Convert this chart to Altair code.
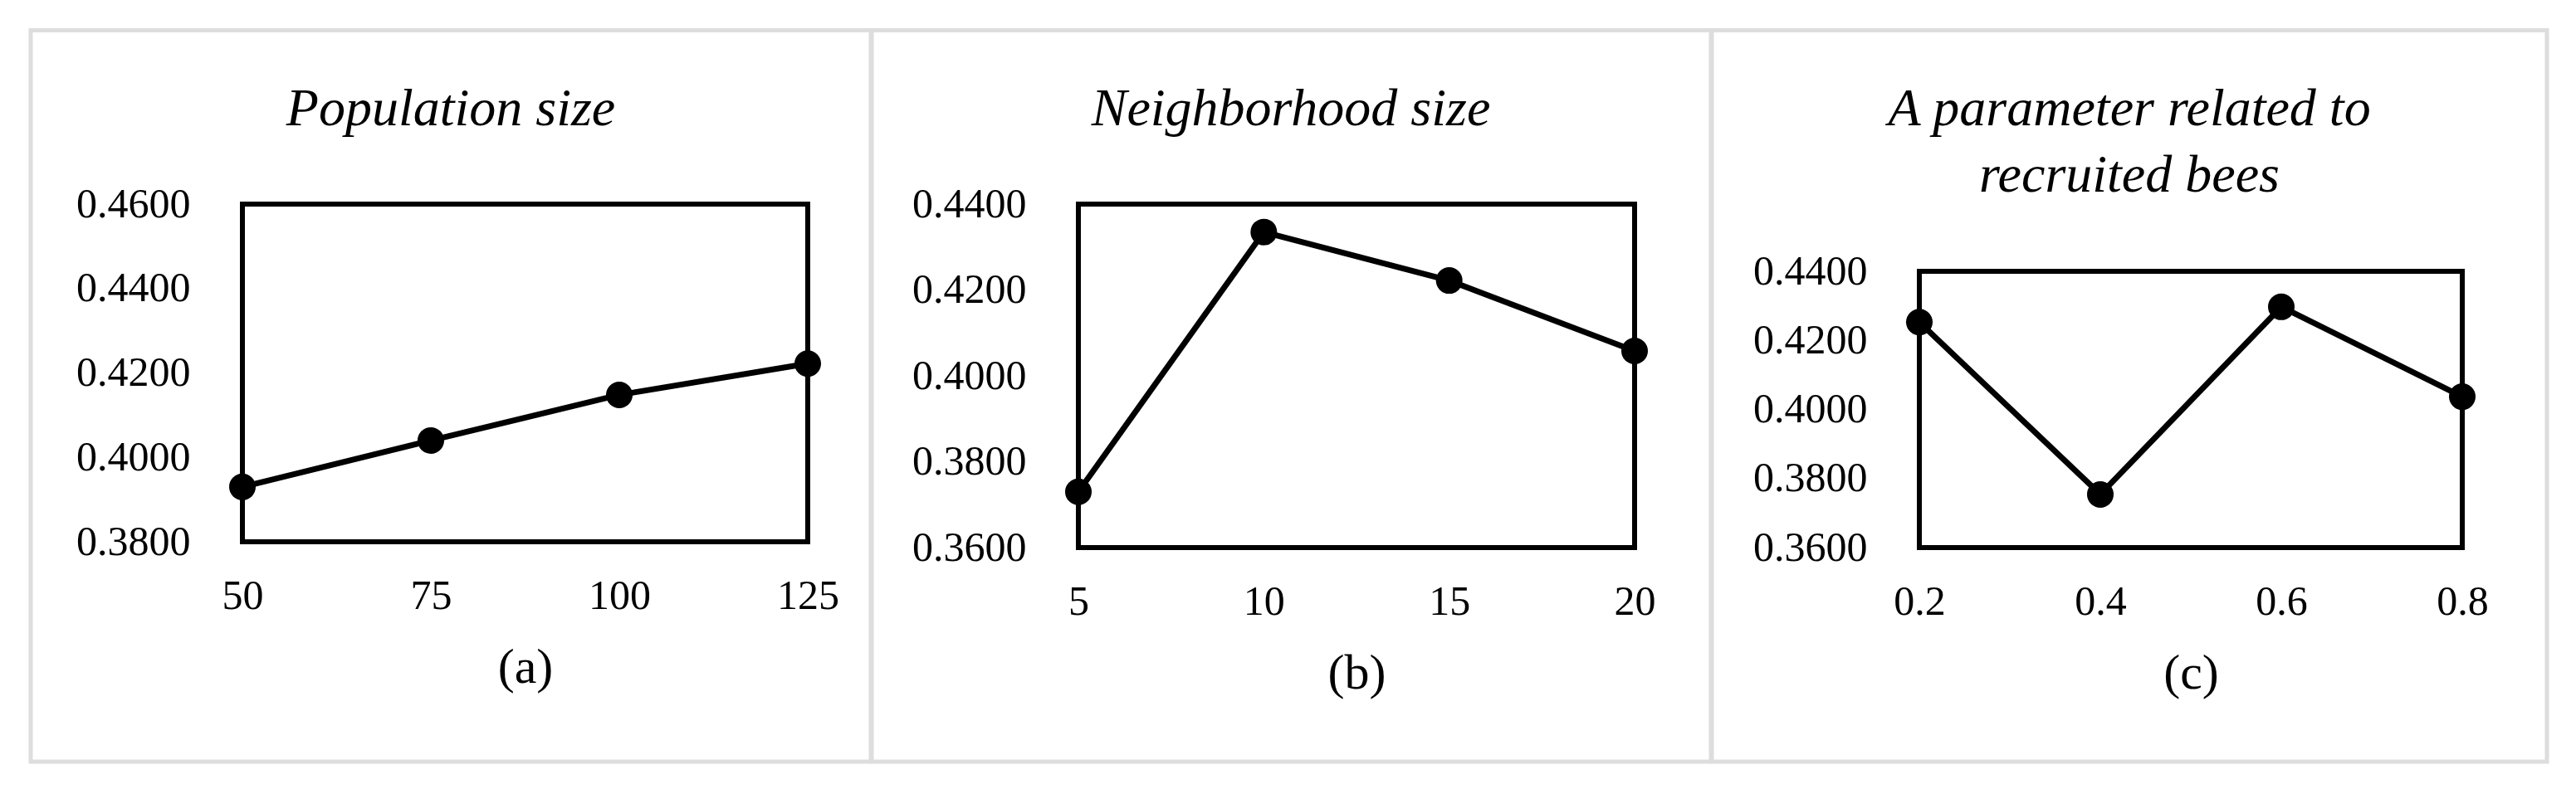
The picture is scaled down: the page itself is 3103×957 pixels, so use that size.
import altair as alt
import pandas as pd

# ---- data ----
pop_x = [50, 75, 100, 125]
pop_y = [0.3930, 0.4040, 0.4148, 0.4222]

nb_x = [5, 10, 15, 20]
nb_y = [0.3730, 0.4335, 0.4222, 0.4058]

rb_x = [0.2, 0.4, 0.6, 0.8]
rb_y = [0.4253, 0.3754, 0.4297, 0.4037]

pop_yticks = [0.38, 0.40, 0.42, 0.44, 0.46]
nb_yticks = [0.36, 0.38, 0.40, 0.42, 0.44]
rb_yticks = [0.36, 0.38, 0.40, 0.42, 0.44]

titles = [["Population size"], ["Neighborhood size"], ["A parameter related to", "recruited bees"]]
captions = ["(a)", "(b)", "(c)"]

FONT = "Liberation Serif"


def panel(xs, ys, x_dom, y_frame, y_top, x_fmt, y_ticks, title, caption,
          w, h, border, title_pos):
    df = pd.DataFrame({"x": xs, "y": ys})
    xsc = alt.Scale(domain=x_dom, nice=False, zero=False)
    ysc = alt.Scale(domain=[y_frame[0], y_top], nice=False, zero=False)

    xaxis = alt.Axis(values=xs, format=x_fmt, title=caption, labelPadding=40,
                     titlePadding=32, labelFlush=False, labelOverlap=False)
    yaxis = alt.Axis(values=y_ticks, format=".4f", title=None, labelPadding=63,
                     labelFlush=False, labelOverlap=False)

    one = alt.Data(values=[{}])

    bx1, bx2, by1, by2 = border
    border_rect = alt.Chart(one).mark_rect(
        fillOpacity=0, stroke="#dddddd", strokeWidth=5
    ).encode(x=alt.value(bx1), x2=alt.value(bx2), y=alt.value(by1), y2=alt.value(by2))

    frame = alt.Chart(one).mark_rect(
        fillOpacity=0, stroke="black", strokeWidth=6
    ).encode(
        x=alt.XDatum(x_dom[0], scale=xsc, axis=xaxis),
        x2=alt.X2Datum(x_dom[1]),
        y=alt.YDatum(y_frame[0], scale=ysc, axis=yaxis),
        y2=alt.Y2Datum(y_frame[1]),
    )

    base = alt.Chart(df).encode(
        x=alt.X("x:Q", scale=xsc, axis=xaxis),
        y=alt.Y("y:Q", scale=ysc, axis=yaxis),
    )
    line = base.mark_line(color="black", strokeWidth=7)
    pts = base.mark_circle(color="black", size=1024, opacity=1)

    tx, ty = title_pos
    ttl = alt.Chart(one).mark_text(
        font=FONT, fontSize=64, fontStyle="italic", align="center",
        baseline="alphabetic", lineHeight=80, color="black"
    ).encode(x=alt.value(tx), y=alt.value(ty), text=alt.value(title))

    return alt.layer(border_rect, frame, line, pts, ttl).properties(width=w, height=h)


pa = panel(pop_x, pop_y, [50, 125], [0.38, 0.46], 0.46, "d", pop_yticks,
           titles[0], captions[0], 681, 407, (-255, 757, -209.5, 672), (251, -95))
pb = panel(nb_x, nb_y, [5, 20], [0.36, 0.44], 0.44, "d", nb_yticks,
           titles[1], captions[1], 670, 414, (-249, 762, -209.5, 672), (256, -95))
pc = panel(rb_x, rb_y, [0.2, 0.8], [0.36, 0.44], 0.36 + 0.08 * 414 / 333, ".1f", rb_yticks,
           titles[2], captions[2], 654, 414, (-250, 756, -209.5, 672), (253, -95))

chart = alt.hconcat(pa, pb, pc, spacing=-5).properties(
    padding={"left": 26, "top": 26, "right": 10, "bottom": 10},
    background="white",
).configure_view(strokeWidth=0).configure_axis(
    domain=False, ticks=False, tickSize=0, grid=False,
    labelFont=FONT, labelFontSize=50, labelColor="black",
    titleFont=FONT, titleFontSize=60, titleColor="black", titleFontWeight="normal",
)

chart.save("out.html", embed_options={"renderer": "svg", "actions": False})
